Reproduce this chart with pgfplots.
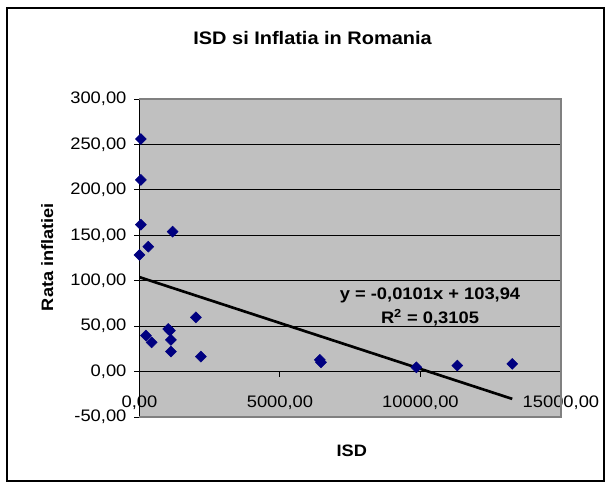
\documentclass[border=0pt]{standalone}
\usepackage{fontspec}
\setmainfont{Liberation Sans}[FakeStretch=1.1]
\usepackage{pgfplots}
\pgfplotsset{compat=1.18}
\definecolor{plotgray}{RGB}{192,192,192}
\definecolor{bordergray}{RGB}{128,128,128}
\definecolor{navyblue}{RGB}{0,0,128}
\begin{document}
\begin{tikzpicture}
\useasboundingbox (0,0) rectangle (459.75pt,365.25pt);
\draw[black, line width=0.8pt] (5.25pt,4.5pt) rectangle (453pt,359.25pt);
\node[anchor=base, font=\fontsize{13.6pt}{15pt}\selectfont\bfseries] at (234.4pt,332.25pt) {ISD si Inflatia in Romania};
\node[anchor=base, rotate=90, font=\fontsize{12.4pt}{14pt}\selectfont\bfseries] at (39.75pt,172.5pt) {Rata inflatiei};
\node[anchor=base, font=\fontsize{12.4pt}{14pt}\selectfont\bfseries] at (263.8pt,22.7pt) {ISD};
\begin{axis}[
  at={(104.6pt,52.5pt)}, anchor=south west,
  scale only axis, width=316.1pt, height=238.5pt,
  xmin=0, xmax=15000, ymin=-50, ymax=300,
  axis x line=middle, axis y line=left,
  axis line style={-, black, line width=0.75pt},
  hide obscured x ticks=false, hide obscured y ticks=false,
  scaled ticks=false,
  xtick={0,5000,10000,15000},
  ytick={-50,0,50,100,150,200,250,300},
  tick align=outside,
  major tick length=3.75pt,
  tick style={black, line width=0.75pt},
  ymajorgrids,
  grid style={black, line width=0.75pt},
  axis background/.style={fill=plotgray},
  clip=false,
  /pgf/number format/assume math mode=true,
  /pgf/number format/.cd, fixed, fixed zerofill, precision=2, use comma, 1000 sep={},
  /pgfplots/.cd,
  tick label style={font=\fontsize{12.5pt}{14pt}\selectfont},
  xticklabel style={anchor=north, yshift=-11pt},
  yticklabel style={anchor=east, xshift=-2.5pt},
  after end axis/.code={
    \draw[bordergray, line width=1.1pt] (rel axis cs:0,1) -- (rel axis cs:1,1) -- (rel axis cs:1,0) -- (rel axis cs:0,0);
  },
]
\addplot[only marks, mark=square*, mark size=2.9pt,
  mark options={rotate=45, fill=navyblue, draw=navyblue}] coordinates {
  (50,256.0) (50,210.9) (50,161.7) (1180,154.0) (313,137.5) (0,128.4)
  (2009,59.7) (1024,46.9) (1085,45.0) (231,39.6) (434,32.2) (1120,34.9)
  (1120,22.0) (2186,16.5)
  (6461,10.2) (6417,12.9) (9854,4.7) (11312,6.6) (13267,8.5)
};
\addplot[black, line width=2pt] coordinates {(0,103.94) (13267,-30.06)};
\end{axis}
\node[anchor=base, font=\fontsize{12.5pt}{14pt}\selectfont\bfseries] at (322.5pt,141pt) {y = -0,0101x + 103,94};
\node[anchor=base, font=\fontsize{12.5pt}{14pt}\selectfont\bfseries] at (322.5pt,122.8pt) {R\textsuperscript{2} = 0,3105};
\end{tikzpicture}
\end{document}
